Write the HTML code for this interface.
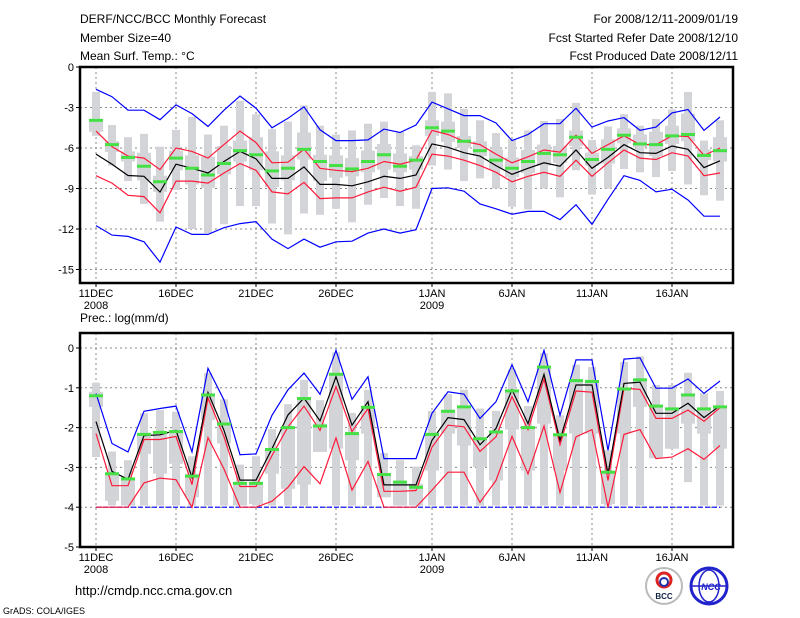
<!DOCTYPE html>
<html><head><meta charset="utf-8">
<style>
body{margin:0;background:#fff;}
svg{display:block;font-family:"Liberation Sans",sans-serif;}
</style></head>
<body>
<svg id="chart" width="800" height="618" viewBox="0 0 800 618" xmlns="http://www.w3.org/2000/svg">
<rect x="0" y="0" width="800" height="618" fill="#fff"/>
<g font-size="12" fill="#000">
<text x="80" y="23">DERF/NCC/BCC Monthly Forecast</text>
<text x="80" y="42">Member Size=40</text>
<text x="80" y="60">Mean Surf. Temp.: °C</text>
<text x="738" y="23" text-anchor="end">For 2008/12/11-2009/01/19</text>
<text x="738" y="42" text-anchor="end">Fcst Started Refer Date 2008/12/10</text>
<text x="738" y="60" text-anchor="end">Fcst Produced Date 2008/12/11</text>
<text x="80" y="322">Prec.: log(mm/d)</text>
<text x="75" y="595" font-size="13">http://cmdp.ncc.cma.gov.cn</text>
<text x="3" y="614" font-size="9">GrADS: COLA/IGES</text>
</g>
<g>
<circle cx="664" cy="586" r="18" fill="#fff" stroke="#bbb" stroke-width="2"/>
<circle cx="664" cy="580" r="7" fill="none" stroke="#d22" stroke-width="3"/>
<circle cx="664" cy="582" r="4" fill="none" stroke="#23a" stroke-width="2"/>
<text x="664" y="599" font-size="8" text-anchor="middle" font-weight="bold" fill="#124">BCC</text>
</g>
<g>
<circle cx="709" cy="586" r="18" fill="#fff" stroke="#22c" stroke-width="3"/>
<ellipse cx="709" cy="586" rx="10" ry="16" fill="none" stroke="#22c" stroke-width="1.5"/>
<line x1="692" y1="586" x2="726" y2="586" stroke="#22c" stroke-width="1.5"/>
<text x="711" y="590" font-size="9" text-anchor="middle" font-style="italic" font-weight="bold" fill="#22c">NCC</text>
</g>
<g id="plots"></g>
</svg>
<script>
// ---------- data ----------
const dayLabels = ["11DEC","16DEC","21DEC","26DEC","1JAN","6JAN","11JAN","16JAN"];
const dayLabelIdx = [0,5,10,15,21,26,31,36];
const yearLabels = ["2008","2009"];
const yearLabelIdx = [0,21];
const tTicks = [0,-3,-6,-9,-12,-15];
const pTicks = [0,-1,-2,-3,-4,-5];

const tMean = [-6.45,-7.2,-8.04,-8.1,-9.26,-7.2,-7.5,-7.85,-7.0,-6.25,-6.8,-8.25,-8.25,-7.4,-8.7,-8.7,-8.8,-8.5,-8.1,-8.25,-8.0,-5.7,-5.95,-6.35,-6.6,-7.3,-7.95,-7.5,-7.1,-7.35,-6.15,-7.5,-6.7,-5.75,-6.35,-6.4,-5.85,-6.1,-7.45,-6.95];
const tRedHi = [-4.75,-5.9,-6.6,-6.75,-7.6,-6.0,-6.25,-6.75,-5.75,-4.75,-5.6,-7.1,-7.05,-6.1,-7.5,-7.65,-7.75,-7.5,-7.0,-7.2,-6.9,-4.7,-5.0,-5.5,-5.75,-6.45,-7.1,-6.65,-6.15,-6.3,-5.05,-6.4,-5.75,-5.1,-5.75,-5.75,-5.1,-5.15,-6.55,-6.0];
const tRedLo = [-8.05,-8.6,-9.5,-9.6,-10.8,-8.45,-8.45,-8.6,-7.85,-7.15,-7.65,-9.25,-9.4,-8.55,-9.75,-9.7,-9.7,-9.25,-8.9,-9.2,-8.9,-6.45,-6.6,-6.9,-7.3,-7.8,-8.5,-8.1,-7.8,-8.1,-6.9,-8.1,-7.1,-6.15,-6.75,-6.85,-6.35,-6.6,-8.05,-7.85];
const tBlueHi = [-1.65,-2.2,-3.2,-3.2,-3.9,-2.8,-3.45,-4.4,-3.2,-2.15,-3.05,-4.5,-3.8,-2.95,-4.65,-5.45,-5.45,-5.4,-4.6,-4.85,-4.3,-2.6,-3.1,-3.6,-3.6,-4.15,-5.45,-5.0,-4.2,-4.2,-3.05,-4.45,-4.0,-3.75,-4.7,-4.45,-3.4,-3.15,-4.7,-3.7];
const tBlueLo = [-11.75,-12.45,-12.55,-12.95,-14.45,-11.85,-12.4,-12.4,-11.9,-11.6,-11.45,-12.75,-13.45,-12.75,-13.35,-12.95,-12.9,-12.3,-12.0,-12.3,-12.05,-9.0,-8.95,-9.2,-10.15,-10.5,-10.9,-10.7,-10.7,-11.3,-10.2,-11.65,-9.8,-8.05,-8.4,-9.25,-9.05,-9.85,-11.05,-11.05];
const tMax = [-1.85,-4.3,-5.2,-4.95,-5.9,-4.65,-3.7,-5.0,-4.35,-2.5,-3.5,-4.6,-4.05,-2.85,-4.35,-5.0,-4.7,-4.2,-4.05,-4.8,-5.8,-1.85,-1.95,-3.1,-3.95,-4.9,-5.35,-4.7,-4.0,-3.85,-2.65,-5.4,-4.4,-3.5,-4.35,-3.85,-3.15,-1.85,-5.45,-3.95];
const tMin = [-5.1,-7.3,-8.45,-10.15,-11.45,-9.1,-12.0,-12.3,-11.65,-10.3,-10.3,-11.6,-12.4,-10.85,-10.95,-10.5,-11.5,-10.2,-9.7,-10.3,-10.5,-7.3,-7.6,-8.45,-8.25,-9.0,-10.35,-10.55,-9.0,-9.65,-7.65,-9.45,-9.0,-7.55,-7.8,-8.15,-7.7,-8.7,-9.5,-9.9];
const tQ3 = [-3.85,-5.5,-6.25,-6.35,-8.05,-6.2,-6.55,-6.65,-5.85,-5.45,-5.2,-6.25,-6.55,-4.85,-6.5,-6.55,-6.75,-6.2,-5.7,-6.4,-6.6,-3.95,-4.05,-5.1,-5.5,-6.1,-6.7,-6.15,-5.75,-5.85,-4.7,-6.35,-5.35,-4.55,-5.0,-4.8,-4.35,-3.45,-6.1,-5.2];
const tQ1 = [-4.8,-6.3,-7.0,-8.4,-9.25,-7.65,-8.7,-8.95,-7.95,-7.0,-7.65,-8.9,-8.4,-6.85,-8.45,-8.2,-8.1,-7.8,-7.6,-7.8,-7.6,-5.1,-5.55,-6.0,-6.6,-7.6,-8.15,-7.85,-7.3,-7.1,-5.85,-7.3,-7.15,-5.65,-5.95,-6.6,-5.7,-5.5,-6.9,-7.0];
const tMed = [-3.95,-5.75,-6.7,-7.35,-8.5,-6.75,-7.5,-8.0,-7.15,-6.2,-6.5,-7.7,-7.5,-6.1,-7.0,-7.3,-7.55,-7.0,-6.5,-7.35,-6.9,-4.5,-4.75,-5.5,-6.2,-6.9,-7.5,-7.0,-6.4,-6.5,-5.2,-6.85,-6.1,-5.05,-5.7,-5.75,-5.1,-5.0,-6.55,-6.2];

const pMean = [-1.85,-3.1,-3.3,-2.2,-2.18,-2.07,-3.25,-1.12,-2.07,-3.32,-3.32,-2.53,-1.68,-1.26,-1.83,-0.72,-1.94,-1.35,-3.44,-3.44,-3.44,-2.32,-1.75,-1.8,-2.43,-2.02,-1.05,-1.9,-0.66,-2.32,-0.93,-0.93,-3.16,-0.89,-0.86,-1.64,-1.64,-1.39,-1.75,-1.45];
const pRedHi = [-2.15,-3.46,-3.46,-2.3,-2.3,-2.22,-3.43,-1.26,-2.23,-3.48,-3.48,-2.7,-1.98,-1.46,-2.07,-0.97,-2.1,-1.52,-3.6,-3.6,-3.58,-2.49,-1.94,-1.98,-2.6,-2.23,-1.22,-2.05,-0.78,-2.43,-1.08,-1.11,-3.33,-1.01,-1.04,-1.77,-1.77,-1.56,-1.84,-1.5];
const pRedLo = [-4,-4,-4,-3.39,-3.27,-3.31,-4,-2.25,-3.04,-4,-4,-3.85,-3.5,-2.98,-3.41,-2.26,-3.57,-2.85,-4,-4,-4,-3.57,-3.12,-3.12,-3.88,-3.33,-2.22,-3.16,-1.96,-3.63,-2.23,-2.05,-4,-2.17,-2.05,-2.78,-2.74,-2.53,-2.8,-2.45];
const pBlueHi = [-1.14,-2.4,-2.61,-1.59,-1.52,-1.46,-2.61,-0.51,-1.31,-2.68,-2.66,-1.69,-1.05,-0.63,-1.16,-0.06,-1.29,-0.72,-2.78,-2.78,-2.78,-1.64,-1.1,-1.16,-1.77,-1.35,-0.42,-1.35,-0.06,-1.69,-0.3,-0.3,-2.57,-0.28,-0.25,-1.01,-1.01,-0.78,-1.14,-0.83];
const pBlueLo = [-4,-4,-4,-4,-4,-4,-4,-4,-4,-4,-4,-4,-4,-4,-4,-4,-4,-4,-4,-4,-4,-4,-4,-4,-4,-4,-4,-4,-4,-4,-4,-4,-4,-4,-4,-4,-4,-4,-4,-4];
const pMax = [-0.87,-2.6,-2.82,-1.64,-1.56,-1.6,-2.72,-0.63,-1.29,-2.93,-2.72,-2.04,-1.41,-0.8,-1.31,-0.11,-1.63,-1.05,-2.64,-2.82,-2.98,-1.58,-1.16,-1.05,-1.52,-1.58,-0.55,-1.46,-0.13,-1.69,-0.42,-0.48,-2.57,-0.35,-0.21,-0.93,-0.93,-0.62,-1.14,-1.08];
const pMin = [-2.74,-3.96,-3.96,-3.96,-3.96,-3.96,-3.96,-3.96,-3.96,-3.96,-3.96,-3.96,-3.96,-3.96,-2.61,-3.96,-3.96,-3.96,-3.75,-3.96,-3.96,-3.96,-3.96,-3.96,-3.96,-3.96,-3.96,-3.96,-3.96,-3.96,-3.96,-3.96,-3.96,-3.96,-3.96,-2.77,-2.53,-3.37,-3.96,-3.96];
const pQ3 = [-1.1,-3.12,-3.29,-2.15,-2.11,-2.07,-3.16,-1.14,-1.85,-3.37,-3.37,-2.53,-1.98,-1.26,-1.9,-0.63,-2.15,-1.48,-3.16,-3.37,-3.41,-2.15,-1.56,-1.46,-2.28,-2.07,-1.05,-1.98,-0.48,-2.19,-0.8,-0.84,-3.12,-1.04,-0.8,-1.46,-1.54,-1.18,-1.53,-1.48];
const pQ1 = [-1.48,-3.84,-3.96,-2.66,-3.16,-2.91,-3.75,-1.81,-2.4,-3.96,-3.92,-3.16,-3.54,-3.43,-2.61,-2.53,-2.82,-2.15,-3.75,-3.96,-3.96,-3.08,-2.15,-2.45,-2.99,-3.33,-2.05,-3.08,-1.9,-3.08,-2.15,-2.15,-3.92,-2.15,-1.48,-2.77,-2.53,-1.9,-2.15,-2.53];
const pMed = [-1.2,-3.16,-3.29,-2.17,-2.12,-2.1,-3.22,-1.18,-1.91,-3.4,-3.4,-2.55,-2.0,-1.27,-1.96,-0.66,-2.15,-1.49,-3.18,-3.37,-3.5,-2.17,-1.59,-1.48,-2.28,-2.11,-1.08,-2.0,-0.48,-2.18,-0.82,-0.84,-3.12,-1.03,-0.8,-1.46,-1.53,-1.18,-1.53,-1.48];

// ---------- drawing ----------
const NS = "http://www.w3.org/2000/svg";
const root = document.getElementById("plots");
const X0 = 80, X1 = 733;
function xPos(i){ return 96 + i*16; }
function mk(tag, attrs, parent){
  const e = document.createElementNS(NS, tag);
  for (const k in attrs) e.setAttribute(k, attrs[k]);
  (parent||root).appendChild(e);
  return e;
}

function panel(cfg){
  const g = mk("g", {});
  
  
  const yPos = v => cfg.y0 + (cfg.vTop - v) * cfg.scale;
  // grid
  cfg.ticks.forEach(t => {
    if (t === cfg.ticks[0] || t === cfg.ticks[cfg.ticks.length-1]) {} 
    const y = yPos(t);
    if (y > cfg.top + 2 && y < cfg.bot - 2) {
      const l = mk("line", {x1:X0, x2:X1, y1:y, y2:y, stroke:"#888", "stroke-width":1, "stroke-dasharray":"2,3"}, g);
      
      
    }
    mk("line", {x1:X0-4, x2:X0, y1:y, y2:y, stroke:"#000"}, g);
    const tx = mk("text", {x:X0-6, y:y+4, "font-size":11, "text-anchor":"end"}, g);
    
    
    tx.textContent = t;
  });
  dayLabelIdx.forEach((idx, k) => {
    const x = xPos(idx);
    const l = mk("line", {x1:x, x2:x, y1:cfg.top, y2:cfg.bot, stroke:"#888", "stroke-width":1, "stroke-dasharray":"2,3"}, g);
    
    
    mk("line", {x1:x, x2:x, y1:cfg.bot, y2:cfg.bot+4, stroke:"#000"}, g);
    const tx = mk("text", {x:x, y:cfg.bot+14, "font-size":11, "text-anchor":"middle"}, g);
    
    
    tx.textContent = dayLabels[k];
  });
  yearLabelIdx.forEach((idx, k) => {
    const tx = mk("text", {x:xPos(idx), y:cfg.bot+26, "font-size":11, "text-anchor":"middle"}, g);
    
    
    tx.textContent = yearLabels[k];
  });
  // boxes
  const d = cfg.data;
  for (let i = 0; i < d.mean.length; i++) {
    const x = xPos(i);
    const r1 = mk("rect", {x:x-4, y:yPos(d.max[i]), width:8, height:yPos(d.min[i])-yPos(d.max[i]), fill:"#d3d4d8"}, g);
    
    
    const r2 = mk("rect", {x:x-7, y:yPos(d.q3[i]), width:14, height:yPos(d.q1[i])-yPos(d.q3[i]), fill:"#d3d4d8"}, g);
    
    
  }
  const line = (arr, color, nm, dash) => {
    const p = mk("polyline", {points: arr.map((v,i)=>xPos(i)+","+yPos(v).toFixed(1)).join(" "), fill:"none", stroke:color, "stroke-width":1.2}, g);
    if (dash) p.setAttribute("stroke-dasharray", dash);
    
    
  };
  line(d.blueLo, "#0000ff", "blue-lower-line", cfg.dashLo);
  line(d.blueHi, "#0000ff", "blue-upper-line");
  line(d.redLo, "#ff1a3a", "red-lower-line");
  line(d.redHi, "#ff1a3a", "red-upper-line");
  line(d.mean, "#000", "mean-line");
  for (let i = 0; i < d.med.length; i++) {
    const x = xPos(i);
    const r = mk("rect", {x:x-7, y:yPos(d.med[i])-1.5, width:14, height:3, fill:"#44e044"}, g);
    
    
  }
  const fr = mk("rect", {x:X0, y:cfg.top, width:X1-X0, height:cfg.bot-cfg.top, fill:"none", stroke:"#000", "stroke-width":2.5}, g);
  
  
}

panel({name:"temperature-panel", top:67, bot:283, y0:67, vTop:0, scale:13.5, ticks:tTicks,
  data:{mean:tMean, redHi:tRedHi, redLo:tRedLo, blueHi:tBlueHi, blueLo:tBlueLo, max:tMax, min:tMin, q3:tQ3, q1:tQ1, med:tMed}});
panel({name:"precipitation-panel", top:333, bot:547, y0:348, vTop:0, scale:39.8, ticks:pTicks, dashLo:"5,2",
  data:{mean:pMean, redHi:pRedHi, redLo:pRedLo, blueHi:pBlueHi, blueLo:pBlueLo, max:pMax, min:pMin, q3:pQ3, q1:pQ1, med:pMed}});
</script>
</body></html>
